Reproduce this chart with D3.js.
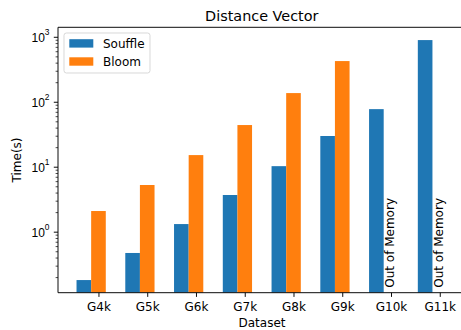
<!DOCTYPE html>
<html>
<head>
<meta charset="utf-8">
<script src="https://cdn.jsdelivr.net/npm/d3@7"></script>
<style>
  html, body { margin: 0; padding: 0; background: #fff; }
  svg { display: block; font-family: "DejaVu Sans", sans-serif; }
  text { fill: #000; }
</style>
</head>
<body>
<svg id="chart" width="461" height="330"></svg>
<script>
// Runtime (seconds) of the distance-vector workload per dataset size
const categories = ["G4k", "G5k", "G6k", "G7k", "G8k", "G9k", "G10k", "G11k"];
const souffle = [0.18, 0.47, 1.31, 3.67, 10.2, 29.7, 77, 890];
const bloom = [2.08, 5.23, 15.1, 43.8, 136, 423, null, null];
const seriesNames = ["Souffle", "Bloom"];
const seriesColors = ["#1f77b4", "#ff7f0e"];
const yMajorTicks = [1, 10, 100, 1000];
const yTickExponents = ["0", "1", "2", "3"];
const missingLabel = "Out of Memory";

const svg = d3.select("#chart");
const plot = { left: 58, right: 465.6, top: 27.3, bottom: 292.7 };
const barWidth = 0.3;

const x = d3.scaleLinear().domain([-0.53, 7.83]).range([plot.left, plot.right]);
const y = d3.scaleLog().domain([0.115, 1400]).range([plot.bottom, plot.top]);
const bw = x(barWidth) - x(0);

svg.append("defs").append("clipPath").attr("id", "plotClip")
  .append("rect")
  .attr("x", plot.left).attr("y", plot.top)
  .attr("width", plot.right - plot.left).attr("height", plot.bottom - plot.top);

const bars = svg.append("g").attr("clip-path", "url(#plotClip)");

// Souffle bars centred on each index, Bloom bars shifted by one bar width
const series = [souffle, bloom];
series.forEach((vals, s) => {
  bars.selectAll(null)
    .data(vals.map((v, i) => ({ v, i })).filter(d => d.v != null))
    .join("rect")
    .attr("x", d => x(d.i + s * barWidth) - bw / 2)
    .attr("width", bw)
    .attr("y", d => y(d.v))
    .attr("height", d => plot.bottom - y(d.v))
    .attr("fill", seriesColors[s]);
});

// Labels where the Bloom run did not finish
bloom.forEach((v, i) => {
  if (v != null) return;
  const tx = x(i + barWidth) + 3;
  const ty = y(0.137);
  svg.append("text")
    .attr("transform", `translate(${tx},${ty}) rotate(-90)`)
    .attr("text-anchor", "start")
    .attr("font-size", 12)
    .text(missingLabel);
});

// X axis
const xAxis = d3.axisBottom(x)
  .tickValues(categories.map((c, i) => i + barWidth))
  .tickFormat((d, i) => categories[i])
  .tickSize(4.2)
  .tickPadding(5.5);
const gx = svg.append("g")
  .attr("transform", `translate(0,${plot.bottom})`)
  .call(xAxis);
gx.select(".domain").remove();
gx.selectAll("line").attr("stroke", "#000").attr("stroke-width", 0.96);
gx.selectAll("text").attr("font-size", 12).attr("font-family", "DejaVu Sans").attr("fill", "#000");

// Y axis: minor ticks
const minorTicks = [];
[-1, 0, 1, 2, 3].forEach(e => {
  for (let m = 2; m <= 9; m++) {
    const v = m * Math.pow(10, e);
    if (v >= y.domain()[0] && v <= y.domain()[1]) minorTicks.push(v);
  }
});
const gyMinor = svg.append("g")
  .attr("transform", `translate(${plot.left},0)`)
  .call(d3.axisLeft(y).tickValues(minorTicks).tickFormat("").tickSize(2.4));
gyMinor.select(".domain").remove();
gyMinor.selectAll("line").attr("stroke", "#000").attr("stroke-width", 0.7);

// Y axis: major ticks with power-of-ten labels
const gy = svg.append("g")
  .attr("transform", `translate(${plot.left},0)`)
  .call(d3.axisLeft(y).tickValues(yMajorTicks).tickFormat("").tickSize(4.2));
gy.select(".domain").remove();
gy.selectAll("line").attr("stroke", "#000").attr("stroke-width", 0.96);
gy.selectAll(".tick text").remove();
gy.selectAll(".tick").each(function (d, i) {
  const t = d3.select(this).append("text")
    .attr("x", -8.5)
    .attr("y", 4.8)
    .attr("text-anchor", "end")
    .attr("font-size", 12)
    .attr("fill", "#000");
  t.append("tspan").text("10");
  t.append("tspan").attr("font-size", 8.4).attr("dy", -6.6).text(yTickExponents[i]);
});

// Axes frame
const frame = svg.append("g").attr("fill", "none").attr("stroke", "#000").attr("stroke-width", 0.96);
frame.append("line").attr("x1", plot.left).attr("x2", plot.left).attr("y1", plot.top).attr("y2", plot.bottom);
frame.append("line").attr("x1", plot.left).attr("x2", plot.right).attr("y1", plot.bottom).attr("y2", plot.bottom);
frame.append("line").attr("x1", plot.left).attr("x2", plot.right).attr("y1", plot.top).attr("y2", plot.top);
frame.append("line").attr("x1", plot.right).attr("x2", plot.right).attr("y1", plot.top).attr("y2", plot.bottom);

// Titles
svg.append("text")
  .attr("x", (plot.left + plot.right) / 2).attr("y", 20.7)
  .attr("text-anchor", "middle").attr("font-size", 14.4)
  .text("Distance Vector");
svg.append("text")
  .attr("x", 262).attr("y", 326.7)
  .attr("text-anchor", "middle").attr("font-size", 12)
  .text("Dataset");
svg.append("text")
  .attr("transform", `translate(20.7,${(plot.top + plot.bottom) / 2}) rotate(-90)`)
  .attr("text-anchor", "middle").attr("font-size", 12)
  .text("Time(s)");

// Legend
const legend = svg.append("g");
legend.append("rect")
  .attr("x", 64).attr("y", 33).attr("width", 86).attr("height", 40)
  .attr("rx", 2.4)
  .attr("fill", "#fff").attr("fill-opacity", 0.8)
  .attr("stroke", "#d6d6d6").attr("stroke-width", 0.96);
seriesNames.forEach((name, i) => {
  const top = 39.2 + i * 18.1;
  legend.append("rect")
    .attr("x", 69.3).attr("y", top).attr("width", 24).attr("height", 8.4)
    .attr("fill", seriesColors[i]);
  legend.append("text")
    .attr("x", 103).attr("y", top + 8.9)
    .attr("font-size", 12)
    .text(name);
});
</script>
</body>
</html>
